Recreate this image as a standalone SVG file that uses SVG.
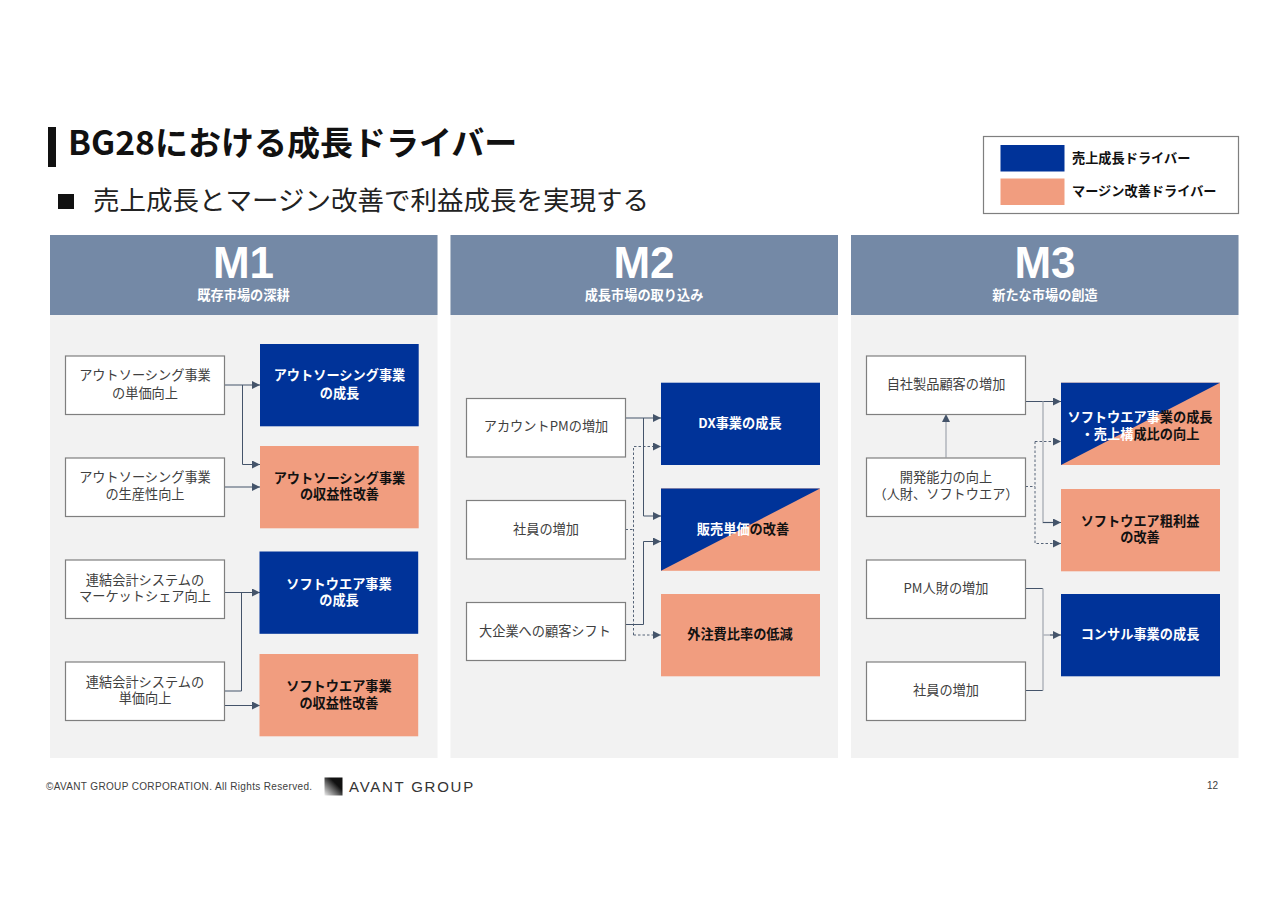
<svg xmlns="http://www.w3.org/2000/svg" width="1280" height="905" viewBox="0 0 1280 905">
<style>
text{font-family:"Noto Sans CJK JP","Noto Sans",sans-serif;text-anchor:middle}
.panel{fill:#f2f2f2}
.head{fill:#7489a6}
.hl{font-size:44px;font-weight:700;fill:#fff;font-family:"Liberation Sans","Noto Sans CJK JP",sans-serif}
.hs{font-size:13.2px;font-weight:700;fill:#fff}
.box{fill:#fff;stroke:#7f7f7f;stroke-width:1.2}
.bt{font-size:13.2px;fill:#404040}
.blue{fill:#003399}
.sal{fill:#f19d7f}
.w{font-size:13.2px;font-weight:700;fill:#fff}
.k{font-size:13.2px;font-weight:700;fill:#111}
.c{fill:none;stroke:#44546a;stroke-width:1}
.g{fill:none;stroke:#b4b8bf;stroke-width:1.6}
.d{fill:none;stroke:#44546a;stroke-width:.9;stroke-dasharray:2.5 2}
</style>
<defs>
<marker id="a" markerUnits="userSpaceOnUse" markerWidth="8" markerHeight="8" refX="8" refY="4" orient="auto"><path d="M0 0L8 4L0 8Z" fill="#44546a"/></marker>
<linearGradient id="lg" x1="1" y1="0" x2="0" y2="1"><stop offset="0.35" stop-color="#111"/><stop offset="1" stop-color="#eee"/></linearGradient>
</defs>
<rect width="1280" height="905" fill="#fff"/>

<g id="title">
<rect x="48" y="127" width="8" height="40" fill="#111"/>
<text x="68" y="155" style="text-anchor:start;font-size:33px;font-weight:700" fill="#111"><tspan textLength="87" lengthAdjust="spacingAndGlyphs">BG28</tspan>における成長ドライバー</text>
<rect x="58" y="194" width="16" height="15" fill="#111"/>
<text x="93" y="210" style="text-anchor:start;font-size:26.5px" fill="#222">売上成長とマージン改善で利益成長を実現する</text>
</g>

<g id="legend">
<rect x="983.5" y="136.5" width="255" height="77" fill="#fff" stroke="#7f7f7f" stroke-width="1.2"/>
<rect class="blue" x="1000.5" y="145" width="64" height="26.5"/>
<rect class="sal" x="1000.5" y="178.5" width="64" height="26.5"/>
<text class="k" x="1072" y="163" style="text-anchor:start;font-size:13.2px">売上成長ドライバー</text>
<text class="k" x="1072" y="196" style="text-anchor:start;font-size:13.2px">マージン改善ドライバー</text>
</g>

<g id="panel-m1">
<rect class="panel" x="50" y="235" width="387.500" height="523"/>
<rect class="head" x="50" y="235" width="387.500" height="80"/>
<text class="hl" x="243.500" y="278">M1</text>
<text class="hs" x="243.500" y="300">既存市場の深耕</text>
</g>
<g id="panel-m2">
<rect class="panel" x="450.500" y="235" width="387.500" height="523"/>
<rect class="head" x="450.500" y="235" width="387.500" height="80"/>
<text class="hl" x="644" y="278">M2</text>
<text class="hs" x="644" y="300">成長市場の取り込み</text>
</g>
<g id="panel-m3">
<rect class="panel" x="851" y="235" width="387.500" height="523"/>
<rect class="head" x="851" y="235" width="387.500" height="80"/>
<text class="hl" x="1045" y="278">M3</text>
<text class="hs" x="1045" y="300">新たな市場の創造</text>
</g>

<g id="connectors">
<path class="c" d="M224.500 385H260" marker-end="url(#a)"/>
<path class="c" d="M242.500 385V464.500H260" marker-end="url(#a)"/>
<path class="c" d="M224.500 487H260" marker-end="url(#a)"/>
<path class="c" d="M224.500 592.500H260" marker-end="url(#a)"/>
<path class="c" d="M224.500 691H241.500V592.500"/>
<path class="c" d="M224.500 705.500H260" marker-end="url(#a)"/>

<path class="c" d="M625.500 418H661" marker-end="url(#a)"/>
<path class="c" d="M643.500 418V516H661" marker-end="url(#a)"/>
<path class="c" d="M625.500 624.500H643.500V541.500H661" marker-end="url(#a)"/>
<path class="d" d="M625.500 529.500H633.500"/>
<path class="d" d="M633.500 635V446.500H661" marker-end="url(#a)"/>
<path class="d" d="M633.500 635H661" marker-end="url(#a)"/>

<path class="c" d="M1025.500 401.500H1061" marker-end="url(#a)"/>
<path class="g" d="M1043 401.500V522.500H1053"/>
<path class="c" d="M1043 522.500H1061" marker-end="url(#a)"/>
<path class="g" d="M946 457.500V420"/>
<path d="M946 414L950 422H942Z" fill="#44546a"/>
<path class="d" d="M1025.500 486.500H1035"/>
<path class="d" d="M1035 441.500V543.500H1061" marker-end="url(#a)"/>
<path class="d" d="M1035 441.500H1061" marker-end="url(#a)"/>
<path class="c" d="M1025.500 588.500H1043"/>
<path class="c" d="M1025.500 690.500H1043"/>
<path class="g" d="M1043 588.500V690.500"/>
<path class="g" d="M1043 635H1053"/>
<path class="c" d="M1050 635H1061" marker-end="url(#a)"/>
</g>

<g id="n1"><rect class="box" x="65.500" y="356" width="159" height="58.500"/><text class="bt" x="145" y="380">アウトソーシング事業</text><text class="bt" x="145" y="398">の単価向上</text></g>
<g id="n2"><rect class="box" x="65.500" y="458" width="159" height="58.500"/><text class="bt" x="145" y="482">アウトソーシング事業</text><text class="bt" x="145" y="499">の生産性向上</text></g>
<g id="n3"><rect class="box" x="65.500" y="560" width="159" height="58.500"/><text class="bt" x="145" y="585">連結会計システムの</text><text class="bt" x="145" y="601">マーケットシェア向上</text></g>
<g id="n4"><rect class="box" x="65.500" y="662" width="159" height="58.500"/><text class="bt" x="145" y="687">連結会計システムの</text><text class="bt" x="145" y="703">単価向上</text></g>
<g id="n5"><rect class="blue" x="260" y="344" width="158.700" height="82.300"/><text class="w" x="339.500" y="380">アウトソーシング事業</text><text class="w" x="339.500" y="398">の成長</text></g>
<g id="n6"><rect class="sal" x="260" y="446" width="158.700" height="82.300"/><text class="k" x="339.500" y="483">アウトソーシング事業</text><text class="k" x="339.500" y="499">の収益性改善</text></g>
<g id="n7"><rect class="blue" x="259.500" y="551.500" width="158.700" height="82.300"/><text class="w" x="339" y="589">ソフトウエア事業</text><text class="w" x="339" y="605">の成長</text></g>
<g id="n8"><rect class="sal" x="259.500" y="654" width="158.700" height="82.300"/><text class="k" x="339" y="691">ソフトウエア事業</text><text class="k" x="339" y="708">の収益性改善</text></g>

<g id="n9"><rect class="box" x="466.500" y="398.500" width="159" height="58.500"/><text class="bt" x="546" y="431">アカウントPMの増加</text></g>
<g id="n10"><rect class="box" x="466.500" y="500.500" width="159" height="58.500"/><text class="bt" x="546" y="534">社員の増加</text></g>
<g id="n11"><rect class="box" x="466.500" y="602.500" width="159" height="58"/><text class="bt" x="545" y="636">大企業への顧客シフト</text></g>
<g id="n12"><rect class="blue" x="661" y="382.700" width="159" height="82.300"/><text class="w" x="740" y="428">DX事業の成長</text></g>
<g id="n13"><rect class="sal" x="661" y="488.500" width="159" height="82.300"/><path class="blue" d="M661 488.500H820L661 570.800Z"/><text class="w" x="743" y="534">販売単価<tspan fill="#111">の改善</tspan></text></g>
<g id="n14"><rect class="sal" x="661" y="594" width="159" height="82.300"/><text class="k" x="740" y="639">外注費比率の低減</text></g>

<g id="n15"><rect class="box" x="866.500" y="356" width="159" height="58.500"/><text class="bt" x="946" y="389">自社製品顧客の増加</text></g>
<g id="n16"><rect class="box" x="866.500" y="458" width="159" height="58.500"/><text class="bt" x="946" y="482">開発能力の向上</text><text class="bt" x="946" y="499">（人財、ソフトウエア）</text></g>
<g id="n17"><rect class="box" x="866.500" y="560" width="159" height="58.500"/><text class="bt" x="946" y="593">PM人財の増加</text></g>
<g id="n18"><rect class="box" x="866.500" y="662" width="159" height="58.500"/><text class="bt" x="946" y="695">社員の増加</text></g>
<g id="n19"><rect class="sal" x="1061" y="382.700" width="159" height="82.300"/><path class="blue" d="M1061 382.700H1220L1061 465Z"/><text class="w" x="1140" y="422">ソフトウエア事<tspan fill="#111">業の成長</tspan></text><text class="w" x="1140" y="439">・売上構<tspan fill="#111">成比の向上</tspan></text></g>
<g id="n20"><rect class="sal" x="1061" y="489" width="159" height="82.300"/><text class="k" x="1140" y="526">ソフトウエア粗利益</text><text class="k" x="1140" y="542">の改善</text></g>
<g id="n21"><rect class="blue" x="1061" y="594" width="159" height="82.300"/><text class="w" x="1140" y="639">コンサル事業の成長</text></g>

<g id="footer">
<text x="46" y="790" style="text-anchor:start;font-size:10px;font-family:'Liberation Sans',sans-serif;letter-spacing:.35px" fill="#404040">©AVANT GROUP CORPORATION. All Rights Reserved.</text>
<rect x="324.500" y="777.500" width="18" height="18" fill="url(#lg)"/>
<text x="349" y="792" style="text-anchor:start;font-size:15px;font-family:'Liberation Sans',sans-serif;letter-spacing:1.75px" fill="#333">AVANT GROUP</text>
<text x="1212.500" y="789" style="font-size:10px;font-family:'Liberation Sans',sans-serif" fill="#404040">12</text>
</g>
</svg>
